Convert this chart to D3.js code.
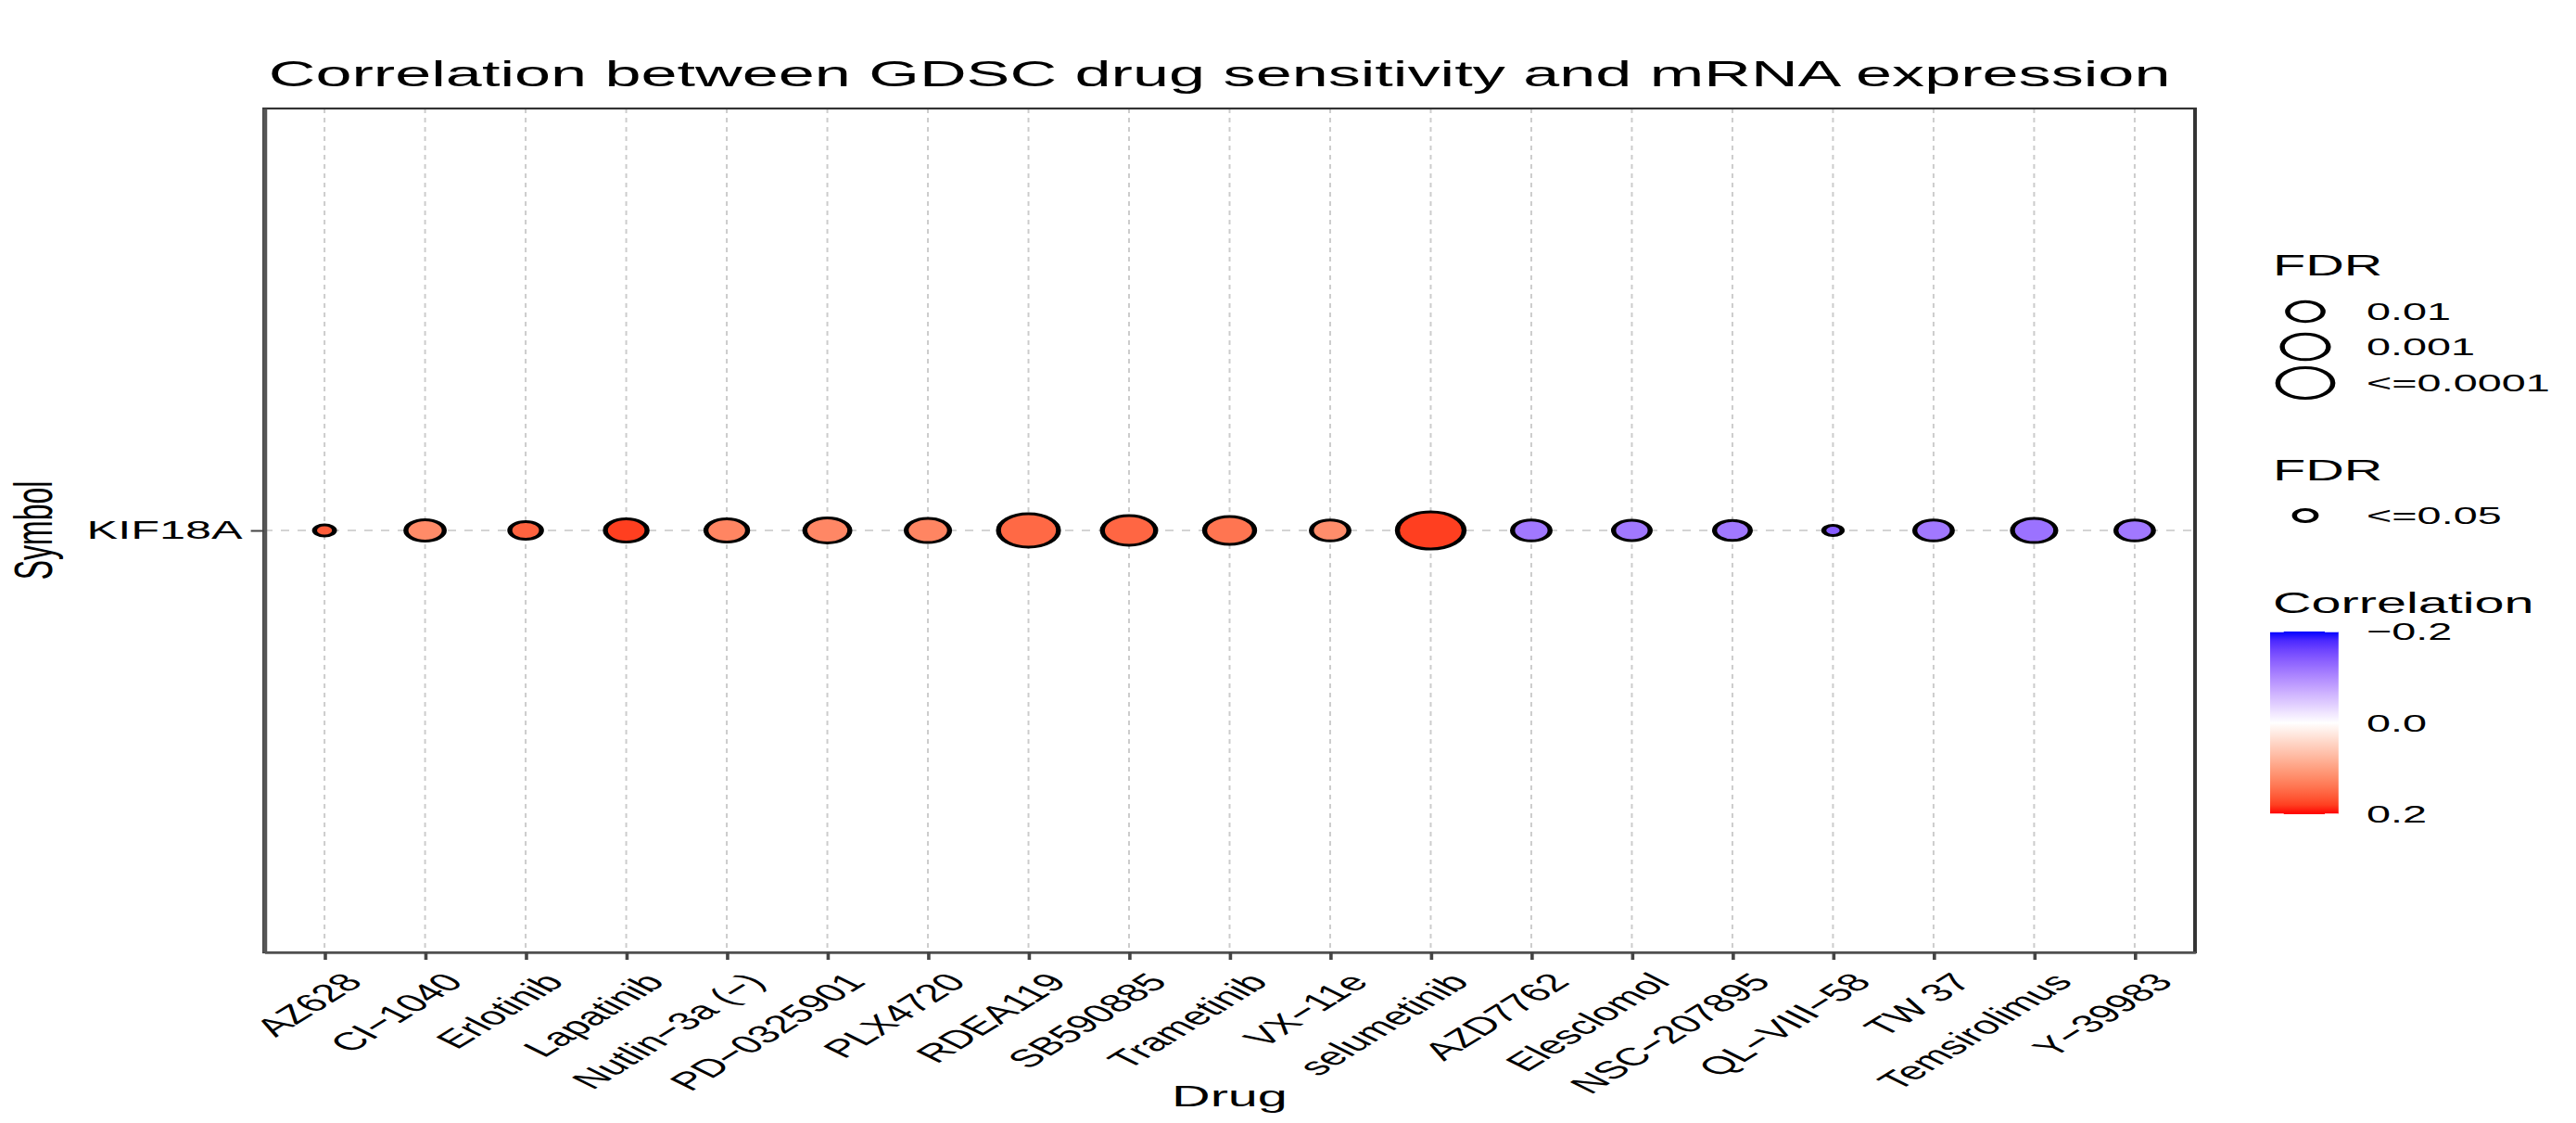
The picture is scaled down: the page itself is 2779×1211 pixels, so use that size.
<!DOCTYPE html>
<html>
<head>
<meta charset="utf-8">
<script src="https://cdn.jsdelivr.net/npm/d3@7"></script>
<style>
  html, body { margin: 0; padding: 0; background: #ffffff; }
  svg { display: block; }
  text { font-family: "Liberation Sans", Arial, Helvetica, sans-serif; fill: #000; }
</style>
</head>
<body>
<div id="chart"></div>
<script>
// ---------------- data ----------------
const drugs = ["AZ628","CI\u22121040","Erlotinib","Lapatinib","Nutlin\u22123a (\u2212)","PD\u22120325901","PLX4720","RDEA119","SB590885","Trametinib","VX\u221211e","selumetinib","AZD7762","Elesclomol","NSC\u2212207895","QL\u2212VIII\u221258","TW 37","Temsirolimus","Y\u221239983"];
const symbols = ["KIF18A"];
const correlation = [0.16, 0.12, 0.155, 0.18, 0.125, 0.123, 0.125, 0.15, 0.152, 0.14, 0.118, 0.18, -0.115, -0.115, -0.115, -0.14, -0.115, -0.12, -0.115];
const negLogFDR   = [0.90, 2.25, 1.69, 2.56, 2.56, 2.89, 2.72, 4.62, 3.80, 3.42, 2.18, 5.52, 2.18, 2.10, 2.03, 0.81, 2.18, 2.72, 2.18];
const fdrLegendValues = [2, 3, 4];
const fdrLegendLabels = ["0.01", "0.001", "<=0.0001"];
const fdrLegend2Values = [1];
const fdrLegend2Labels = ["<=0.05"];
const colorTicks = [-0.2, 0, 0.2];
const colorTickLabels = ["\u22120.2", "0.0", "0.2"];

// ---------------- layout ----------------
const W = 2779, H = 1211;
const sx = 1.8;               // horizontal stretch of the original picture
const VW = W / sx;            // viewBox width
const panel = { left: 285 / sx, right: 2368 / sx, top: 117, bottom: 1027 };

const svg = d3.select("#chart").append("svg")
  .attr("width", W).attr("height", H)
  .attr("viewBox", `0 0 ${VW} ${H}`)
  .attr("preserveAspectRatio", "none");

svg.append("rect").attr("x", 0).attr("y", 0).attr("width", VW).attr("height", H).attr("fill", "#fff");

const x = d3.scalePoint().domain(drugs).range([panel.left, panel.right]).padding(0.6);
const y = d3.scalePoint().domain(symbols).range([panel.top, panel.bottom]).padding(0.6);
const size = d3.scaleSqrt().domain([1, 4]).range([8, 18]);
const color = d3.scaleLinear().domain([-0.2, 0, 0.2]).range(["blue", "white", "red"]).interpolate(d3.interpolateLab).clamp(true);

// grid
const grid = svg.append("g");
grid.selectAll("line.v").data(drugs).join("line")
  .attr("x1", d => x(d)).attr("x2", d => x(d))
  .attr("y1", panel.top).attr("y2", panel.bottom)
  .attr("stroke", "#cccccc").attr("stroke-width", 1.1).attr("stroke-dasharray", "5,5");
grid.selectAll("line.h").data(symbols).join("line")
  .attr("x1", panel.left).attr("x2", panel.right)
  .attr("y1", d => y(d)).attr("y2", d => y(d))
  .attr("stroke", "#d4d4d4").attr("stroke-width", 2).attr("stroke-dasharray", "5,5");

// points
const pts = drugs.map((d, i) => ({ drug: d, sym: symbols[0], cor: correlation[i], fdr: negLogFDR[i] }));
svg.append("g").selectAll("circle").data(pts).join("circle")
  .attr("cx", d => x(d.drug)).attr("cy", d => y(d.sym))
  .attr("r", d => size(d.fdr) - 1.5)
  .attr("fill", d => color(d.cor))
  .attr("stroke", "#000").attr("stroke-width", 3);

// panel border
svg.append("rect")
  .attr("x", panel.left).attr("y", panel.top)
  .attr("width", panel.right - panel.left).attr("height", panel.bottom - panel.top)
  .attr("fill", "none").attr("stroke", "#333").attr("stroke-width", 2.2);

// x axis
const xAxis = d3.axisBottom(x).tickSizeInner(8).tickSizeOuter(0).tickPadding(4);
const gx = svg.append("g").attr("transform", `translate(0,${panel.bottom})`).call(xAxis);
gx.select(".domain").attr("stroke", "#555").attr("stroke-width", 2.6);
gx.selectAll(".tick line").attr("stroke", "#444").attr("stroke-width", 2);
gx.selectAll(".tick text")
  .attr("font-size", 27).attr("fill", "#111")
  .attr("text-anchor", "end")
  .attr("transform", "translate(9,20) rotate(-48)")
  .attr("x", 0).attr("y", 0).attr("dy", "0.72em").attr("dx", 0);

// y axis
const yAxis = d3.axisLeft(y).tickSizeInner(8).tickSizeOuter(0).tickPadding(5);
const gy = svg.append("g").attr("transform", `translate(${panel.left},0)`).call(yAxis);
gy.select(".domain").attr("stroke", "#555").attr("stroke-width", 2.6);
gy.selectAll(".tick line").attr("stroke", "#444").attr("stroke-width", 2);
gy.selectAll(".tick text").attr("font-size", 28).attr("fill", "#111");

// titles
svg.append("text").attr("x", 161).attr("y", 93).attr("font-size", 39).text("Correlation between GDSC drug sensitivity and mRNA expression");
svg.append("text").attr("x", (panel.left + panel.right) / 2).attr("y", 1193).attr("font-size", 32).attr("text-anchor", "middle").text("Drug");
svg.append("text").attr("transform", `translate(31,${y(symbols[0])}) rotate(-90)`).attr("font-size", 32).attr("text-anchor", "middle").text("Symbol");

// ---------------- legends ----------------
const lg = svg.append("g");
const keyX = 2487 / sx, labX = 2553 / sx, titX = 2452 / sx;

lg.append("text").attr("x", titX).attr("y", 297).attr("font-size", 32).text("FDR");
const l1y = [336, 374, 413];
fdrLegendValues.forEach((v, i) => {
  lg.append("circle").attr("cx", keyX).attr("cy", l1y[i]).attr("r", size(v) - 1.5)
    .attr("fill", "none").attr("stroke", "#000").attr("stroke-width", 3);
  lg.append("text").attr("x", labX).attr("y", l1y[i]).attr("dy", "0.36em").attr("font-size", 26).text(fdrLegendLabels[i]);
});

lg.append("text").attr("x", titX).attr("y", 518).attr("font-size", 32).text("FDR");
fdrLegend2Values.forEach((v, i) => {
  lg.append("circle").attr("cx", keyX).attr("cy", 556).attr("r", size(v) - 1.5)
    .attr("fill", "none").attr("stroke", "#000").attr("stroke-width", 3);
  lg.append("text").attr("x", labX).attr("y", 556).attr("dy", "0.36em").attr("font-size", 26).text(fdrLegend2Labels[i]);
});

lg.append("text").attr("x", titX).attr("y", 661).attr("font-size", 32).text("Correlation");
const barX = 2449 / sx, barW = 41;
const cb = d3.scaleLinear().domain([-0.2, 0.2]).range([681, 878]);
const grad = svg.append("defs").append("linearGradient").attr("id", "cbar")
  .attr("x1", 0).attr("x2", 0).attr("y1", 0).attr("y2", 1);
d3.range(0, 1.0001, 0.05).forEach(t => {
  grad.append("stop").attr("offset", t).attr("stop-color", color(-0.2 + 0.4 * t));
});
lg.append("rect").attr("x", barX).attr("y", cb(-0.2)).attr("width", barW).attr("height", cb(0.2) - cb(-0.2)).attr("fill", "url(#cbar)");
colorTicks.forEach((v, i) => {
  lg.append("line").attr("x1", barX).attr("x2", barX + barW * 0.2).attr("y1", cb(v)).attr("y2", cb(v)).attr("stroke", "#fff").attr("stroke-width", 1.5);
  lg.append("line").attr("x1", barX + barW * 0.8).attr("x2", barX + barW).attr("y1", cb(v)).attr("y2", cb(v)).attr("stroke", "#fff").attr("stroke-width", 1.5);
  lg.append("text").attr("x", labX).attr("y", cb(v)).attr("dy", "0.36em").attr("font-size", 26).text(colorTickLabels[i]);
});
</script>
</body>
</html>
